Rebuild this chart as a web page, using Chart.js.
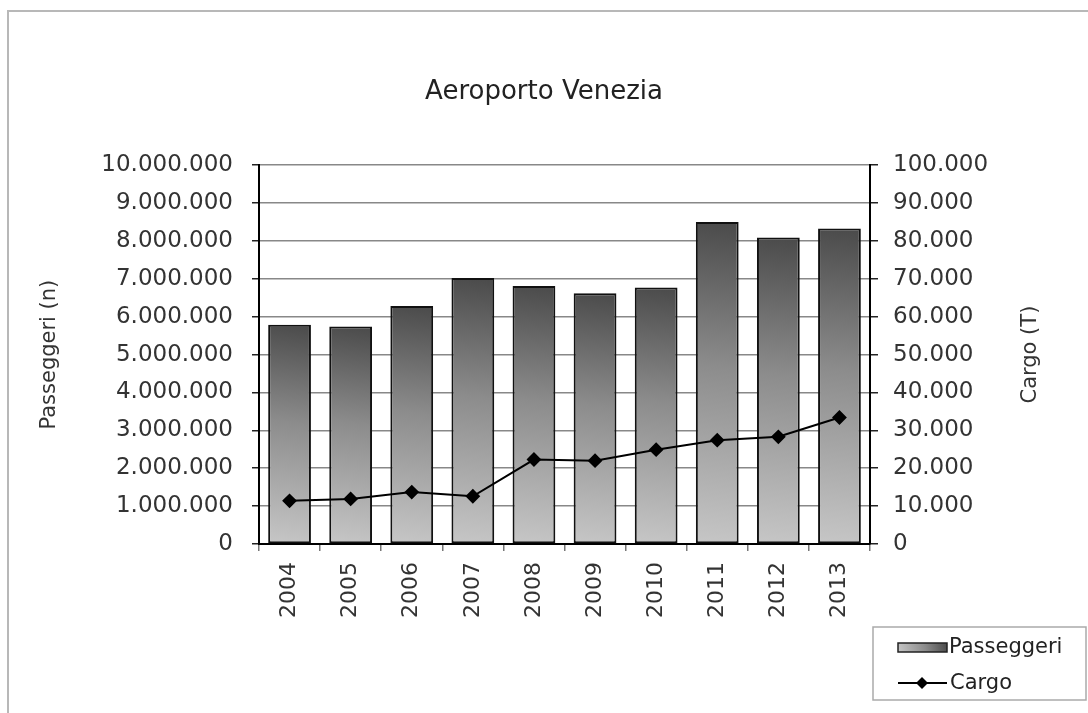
<!DOCTYPE html>
<html>
<head>
<meta charset="utf-8">
<title>Aeroporto Venezia</title>
<script src="https://cdn.jsdelivr.net/npm/chart.js@4.4.1/dist/chart.umd.min.js"></script>
<style>
    body { margin: 0; background: #fff; }
    #wrap { position: absolute; left: 0; top: 0; width: 1088px; height: 713px; }
</style>
</head>
<body>
<div id="wrap"><canvas id="chart" width="1088" height="713"></canvas></div>
<script>
const years = ['2004', '2005', '2006', '2007', '2008', '2009', '2010', '2011', '2012', '2013'];
const passeggeri = [5790000, 5740000, 6280000, 7020000, 6810000, 6620000, 6770000, 8500000, 8090000, 8330000];
const cargo = [11400, 11900, 13700, 12600, 22300, 22000, 24900, 27400, 28300, 33400];

const leftMax = 10000000;
const leftStep = 1000000;
const rightMax = 100000;
const rightStep = 10000;

const FONT = 'DejaVu Sans';

// 1234567 -> 1.234.567
function dots(v) {
    return String(Math.round(v)).replace(/\B(?=(\d{3})+(?!\d))/g, '.');
}

function barGradient(c, x0, y0, x1, y1) {
    const g = c.createLinearGradient(x0, y0, x1, y1);
    g.addColorStop(0, '#4a4a4a');
    g.addColorStop(0.45, '#8c8c8c');
    g.addColorStop(1, '#c6c6c6');
    return g;
}

// gradient per bar, dark at the top right, light at the bottom left
function barFill(ctx) {
    const chart = ctx.chart;
    if (!chart.chartArea || ctx.type !== 'data') return '#888';
    const x = chart.scales.x;
    const y = chart.scales.y;
    const cx = x.getPixelForValue(ctx.dataIndex);
    const half = x.width / years.length * 0.35;
    const top = y.getPixelForValue(ctx.raw);
    const base = y.getPixelForValue(0);
    return barGradient(chart.ctx, cx + half, top, cx - half * 0.5, base);
}

// outer frame, right axis title and the boxed legend
const decor = {
    id: 'decor',
    beforeDraw(chart) {
        const c = chart.ctx;
        c.save();
        c.strokeStyle = '#b8b8b8';
        c.lineWidth = 2;
        c.beginPath();
        c.moveTo(8, 713);
        c.lineTo(8, 11);
        c.lineTo(1088, 11);
        c.stroke();
        c.restore();
    },
    afterDraw(chart) {
        const c = chart.ctx;
        const area = chart.chartArea;
        c.save();
        c.fillStyle = '#333';
        c.font = '21px "' + FONT + '"';
        c.textAlign = 'center';
        c.textBaseline = 'middle';
        c.translate(1031, (area.top + area.bottom) / 2);
        c.rotate(-Math.PI / 2);
        c.fillText('Cargo (T)', 0, 0);
        c.restore();

        c.save();
        c.strokeStyle = '#aaa';
        c.lineWidth = 1.5;
        c.strokeRect(873, 627, 213, 73);

        c.fillStyle = barGradient(c, 947, 643, 898, 652);
        c.fillRect(898, 643, 49, 9);
        c.strokeStyle = '#222';
        c.lineWidth = 1.5;
        c.strokeRect(898, 643, 49, 9);

        c.strokeStyle = '#000';
        c.lineWidth = 2;
        c.beginPath();
        c.moveTo(898, 683);
        c.lineTo(947, 683);
        c.stroke();
        c.fillStyle = '#000';
        c.beginPath();
        c.moveTo(922, 677);
        c.lineTo(928, 683);
        c.lineTo(922, 689);
        c.lineTo(916, 683);
        c.closePath();
        c.fill();

        c.fillStyle = '#222';
        c.font = '21px "' + FONT + '"';
        c.textAlign = 'left';
        c.textBaseline = 'middle';
        c.fillText('Passeggeri', 949, 648);
        c.fillText('Cargo', 950, 684);
        c.restore();
    }
};

const tickFont = { family: FONT, size: 23 };

new Chart(document.getElementById('chart'), {
    type: 'bar',
    data: {
        labels: years,
        datasets: [
            {
                type: 'line',
                label: 'Cargo',
                data: cargo,
                yAxisID: 'y1',
                borderColor: '#000',
                borderWidth: 2,
                backgroundColor: '#000',
                pointStyle: 'rectRot',
                pointRadius: 6,
                pointBackgroundColor: '#000',
                pointBorderColor: '#000',
                tension: 0,
                order: 0
            },
            {
                label: 'Passeggeri',
                data: passeggeri,
                yAxisID: 'y',
                backgroundColor: barFill,
                borderColor: '#111',
                borderWidth: 2,
                borderSkipped: false,
                barPercentage: 0.7,
                categoryPercentage: 1,
                order: 1
            }
        ]
    },
    options: {
        responsive: false,
        animation: false,
        devicePixelRatio: 1,
        layout: { padding: 0 },
        plugins: {
            legend: { display: false },
            tooltip: { enabled: false },
            title: {
                display: true,
                text: 'Aeroporto Venezia',
                color: '#222',
                font: { family: FONT, size: 26, weight: 'normal' },
                padding: { top: 77, bottom: 57 }
            }
        },
        scales: {
            x: {
                offset: true,
                grid: { drawOnChartArea: false, tickLength: 7, tickColor: '#777', lineWidth: 1.5 },
                border: { color: '#000', width: 2 },
                ticks: {
                    color: '#333',
                    font: { family: FONT, size: 22 },
                    minRotation: 90,
                    maxRotation: 90,
                    autoSkip: false,
                    padding: 11
                },
                afterFit(scale) { scale.height = 169; }
            },
            y: {
                position: 'left',
                min: 0,
                max: leftMax,
                grid: { color: '#888', lineWidth: 1.5, tickColor: '#222', tickLength: 7 },
                border: { color: '#000', width: 2 },
                ticks: {
                    stepSize: leftStep,
                    color: '#333',
                    font: tickFont,
                    padding: 19,
                    callback: v => dots(v)
                },
                title: {
                    display: true,
                    text: 'Passeggeri (n)',
                    color: '#333',
                    font: { family: FONT, size: 21 },
                    padding: { top: 37, bottom: 0 }
                },
                afterFit(scale) { scale.width = 259; }
            },
            y1: {
                position: 'right',
                min: 0,
                max: rightMax,
                grid: { drawOnChartArea: false, tickColor: '#222', tickLength: 8, lineWidth: 1.5 },
                border: { color: '#000', width: 2 },
                ticks: {
                    stepSize: rightStep,
                    color: '#333',
                    font: tickFont,
                    padding: 15,
                    callback: v => dots(v)
                },
                afterFit(scale) { scale.width = 218; }
            }
        }
    },
    plugins: [decor]
});
</script>
</body>
</html>
